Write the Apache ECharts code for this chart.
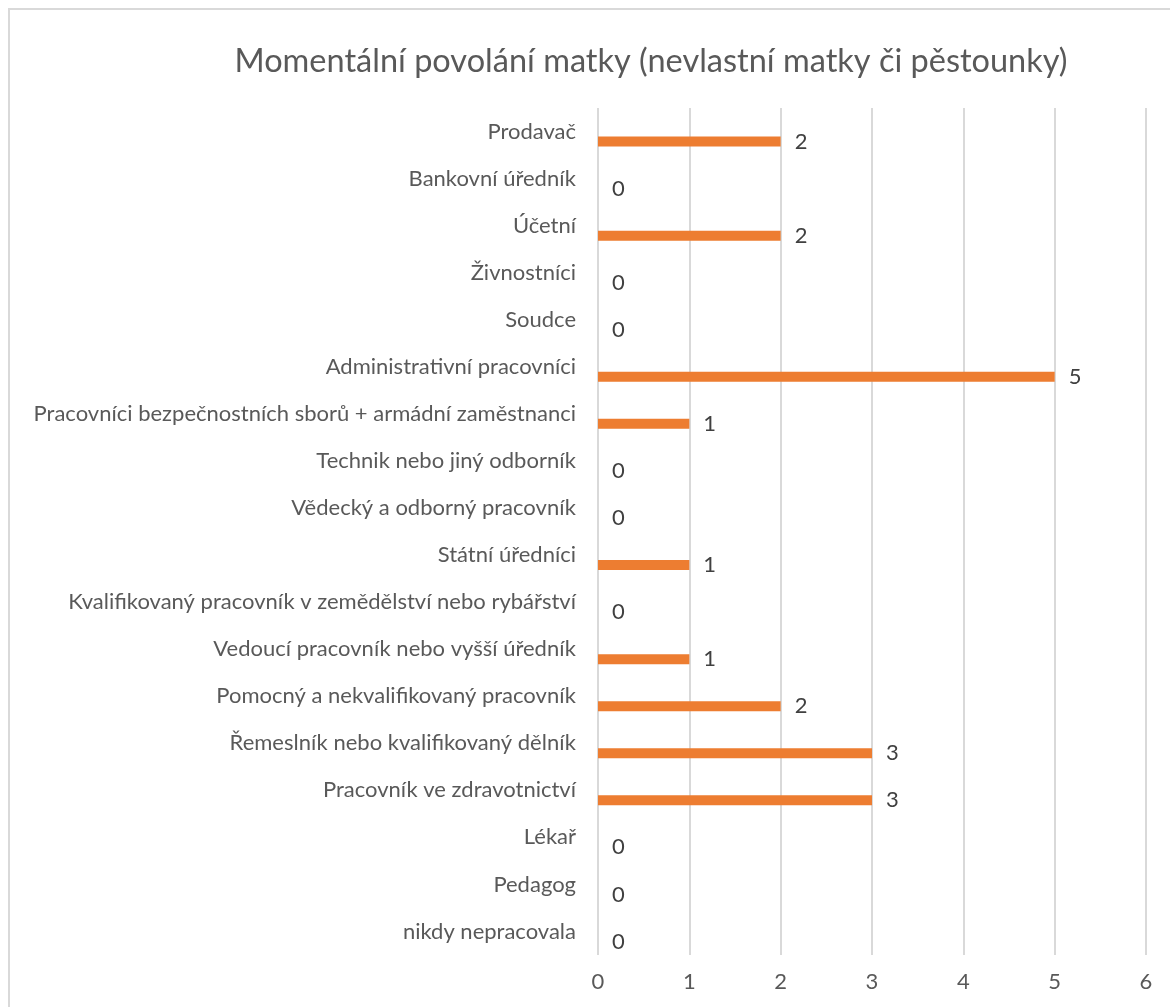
<!DOCTYPE html>
<html>
<head>
<meta charset="utf-8">
<script src="https://cdn.jsdelivr.net/npm/echarts@6/dist/echarts.min.js"></script>
<style>
html,body{margin:0;padding:0;background:#fff;}
#c{width:1170px;height:1007px;}
</style>
</head>
<body>
<div id="c"></div>
<script>
// categories listed from bottom to top
const categories = [
  'nikdy nepracovala',
  'Pedagog',
  'Lékař',
  'Pracovník ve zdravotnictví',
  'Řemeslník nebo kvalifikovaný dělník',
  'Pomocný a nekvalifikovaný pracovník',
  'Vedoucí pracovník nebo vyšší úředník',
  'Kvalifikovaný pracovník v zemědělství nebo rybářství',
  'Státní úředníci',
  'Vědecký a odborný pracovník',
  'Technik nebo jiný odborník',
  'Pracovníci bezpečnostních sborů + armádní zaměstnanci',
  'Administrativní pracovníci',
  'Soudce',
  'Živnostníci',
  'Účetní',
  'Bankovní úředník',
  'Prodavač'
];
const values = [0, 0, 0, 3, 3, 2, 1, 0, 1, 0, 0, 1, 5, 0, 0, 2, 0, 2];
const emptySeries = categories.map(() => null);
const xTicks = [0, 1, 2, 3, 4, 5, 6];

const FONT = 'Lato';
const chart = echarts.init(document.getElementById('c'), null, {renderer: 'canvas'});
chart.setOption({
  animation: false,
  backgroundColor: '#ffffff',
  textStyle: {fontFamily: FONT},
  graphic: [{
    type: 'rect',
    shape: {x: 9, y: 9, width: 1180, height: 1020},
    style: {fill: 'none', stroke: '#d9d9d9', lineWidth: 2},
    silent: true
  }],
  title: {
    text: 'Momentální povolání matky (nevlastní matky či pěstounky)',
    left: 646,
    textAlign: 'center',
    top: 40,
    textStyle: {fontFamily: FONT, fontSize: 32.5, fontWeight: 'normal', color: '#595959'}
  },
  grid: {left: 598, right: 24, top: 108, bottom: 52, containLabel: false},
  xAxis: {
    type: 'value',
    min: xTicks[0],
    max: xTicks[xTicks.length - 1],
    interval: 1,
    axisLine: {show: false},
    axisTick: {show: false},
    splitLine: {show: true, lineStyle: {color: '#d9d9d9', width: 2}},
    axisLabel: {color: '#595959', fontSize: 22, fontFamily: FONT, margin: 16}
  },
  yAxis: {
    type: 'category',
    data: categories,
    axisLine: {show: false},
    axisTick: {show: false},
    splitLine: {show: false},
    axisLabel: {color: '#595959', fontSize: 22, fontFamily: FONT, margin: 22}
  },
  series: [
    {
      name: 'empty',
      type: 'bar',
      data: emptySeries,
      barWidth: 10,
      barGap: '100%'
    },
    {
      name: 'real',
      type: 'bar',
      data: values,
      barWidth: 10,
      barGap: '100%',
      itemStyle: {color: '#ED7D31'},
      label: {show: true, position: 'right', distance: 14, color: '#404040', fontSize: 22, fontFamily: FONT}
    }
  ]
});
</script>
</body>
</html>
